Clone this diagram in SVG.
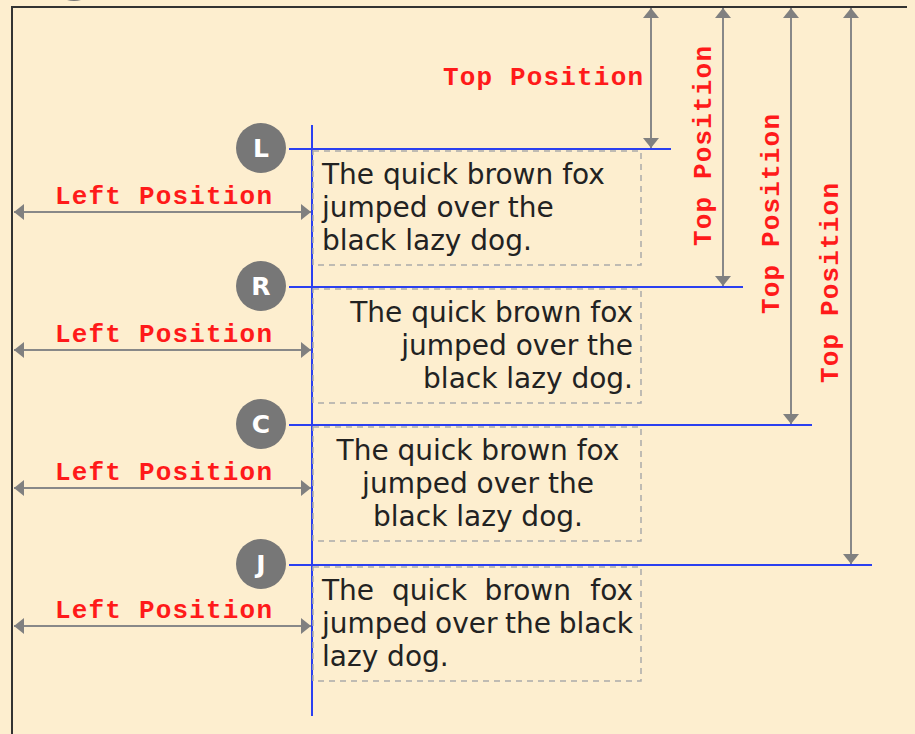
<svg xmlns="http://www.w3.org/2000/svg" width="915" height="734" viewBox="0 0 915 734">
<style>
.bg{fill:#FDEECF}
.frame{stroke:#333;stroke-width:2;fill:none}
.blue{stroke:#2b3ff0;stroke-width:2;fill:none}
.dim{stroke:#888;stroke-width:2;fill:none;marker-start:url(#ah);marker-end:url(#ah)}
.box{fill:none;stroke:#aaa;stroke-width:1.5;stroke-dasharray:6 5}
.badge{fill:#777}
.blet{fill:#fff;font-family:"DejaVu Sans",Verdana,sans-serif;font-weight:bold;font-size:25px;text-anchor:middle}
.lbl{fill:#ff1a1a;font-family:"Liberation Mono","Courier New",monospace;font-weight:bold;font-size:26px}
.txt{fill:#222;font-family:"DejaVu Sans",Verdana,sans-serif;font-size:28px}
</style>
<defs>
<marker id="ah" viewBox="0 0 10 16" refX="10" refY="8" markerWidth="10" markerHeight="16" markerUnits="userSpaceOnUse" orient="auto-start-reverse">
<path d="M0,0 L10,8 L0,16 z" fill="#808080"/>
</marker>
</defs>
<rect class="bg" x="0" y="0" width="915" height="734"/>
<circle class="badge" cx="74" cy="-24" r="25"/>
<path class="frame" d="M12,734 V7 H907"/>

<g id="connectors">
<line class="blue" x1="312" y1="125" x2="312" y2="716"/>
<line class="blue" x1="289" y1="149" x2="671" y2="149"/>
<line class="blue" x1="289" y1="287" x2="743" y2="287"/>
<line class="blue" x1="289" y1="425" x2="812" y2="425"/>
<line class="blue" x1="289" y1="565" x2="872" y2="565"/>
<line class="dim" x1="651" y1="8" x2="651" y2="148"/>
<line class="dim" x1="723" y1="8" x2="723" y2="286"/>
<line class="dim" x1="791" y1="8" x2="791" y2="424"/>
<line class="dim" x1="851" y1="8" x2="851" y2="564"/>
<line class="dim" x1="14" y1="212" x2="311" y2="212"/>
<line class="dim" x1="14" y1="350" x2="311" y2="350"/>
<line class="dim" x1="14" y1="488" x2="311" y2="488"/>
<line class="dim" x1="14" y1="626" x2="311" y2="626"/>
<text class="lbl" x="443" y="85" textLength="200" lengthAdjust="spacing">Top Position</text>
<text class="lbl" transform="translate(711,146) rotate(-90)" x="-100" y="0" textLength="200" lengthAdjust="spacing">Top Position</text>
<text class="lbl" transform="translate(779,214) rotate(-90)" x="-100" y="0" textLength="200" lengthAdjust="spacing">Top Position</text>
<text class="lbl" transform="translate(838,283) rotate(-90)" x="-100" y="0" textLength="200" lengthAdjust="spacing">Top Position</text>
<text class="lbl" x="55" y="204" textLength="217" lengthAdjust="spacing">Left Position</text>
<text class="lbl" x="55" y="342" textLength="217" lengthAdjust="spacing">Left Position</text>
<text class="lbl" x="55" y="480" textLength="217" lengthAdjust="spacing">Left Position</text>
<text class="lbl" x="55" y="618" textLength="217" lengthAdjust="spacing">Left Position</text>
</g>

<g id="node-left">
<rect class="box" x="313" y="151" width="328" height="114"/>
<circle class="badge" cx="261" cy="148" r="25"/>
<text class="blet" x="261" y="157">L</text>
<text class="txt" x="322"><tspan x="322" y="184">The quick brown fox</tspan><tspan x="322" y="217">jumped over the</tspan><tspan x="322" y="250">black lazy dog.</tspan></text>
</g>

<g id="node-right">
<rect class="box" x="313" y="289" width="328" height="114"/>
<circle class="badge" cx="261" cy="286" r="25"/>
<text class="blet" x="261" y="295">R</text>
<text class="txt" text-anchor="end"><tspan x="633" y="322">The quick brown fox</tspan><tspan x="633" y="355">jumped over the</tspan><tspan x="633" y="388">black lazy dog.</tspan></text>
</g>

<g id="node-center">
<rect class="box" x="313" y="427" width="328" height="114"/>
<circle class="badge" cx="261" cy="424" r="25"/>
<text class="blet" x="261" y="433">C</text>
<text class="txt" text-anchor="middle"><tspan x="478" y="460">The quick brown fox</tspan><tspan x="478" y="493">jumped over the</tspan><tspan x="478" y="526">black lazy dog.</tspan></text>
</g>

<g id="node-justify">
<rect class="box" x="313" y="567" width="328" height="114"/>
<circle class="badge" cx="261" cy="564" r="25"/>
<text class="blet" x="261" y="573">J</text>
<text class="txt" x="322" y="600">The</text>
<text class="txt" x="392" y="600">quick</text>
<text class="txt" x="484.5" y="600">brown</text>
<text class="txt" x="633" y="600" text-anchor="end">fox</text>
<text class="txt" x="322" y="633">jumped</text>
<text class="txt" x="435" y="633">over</text>
<text class="txt" x="505" y="633">the</text>
<text class="txt" x="633" y="633" text-anchor="end">black</text>
<text class="txt" x="322" y="666">lazy dog.</text>
</g>
</svg>
